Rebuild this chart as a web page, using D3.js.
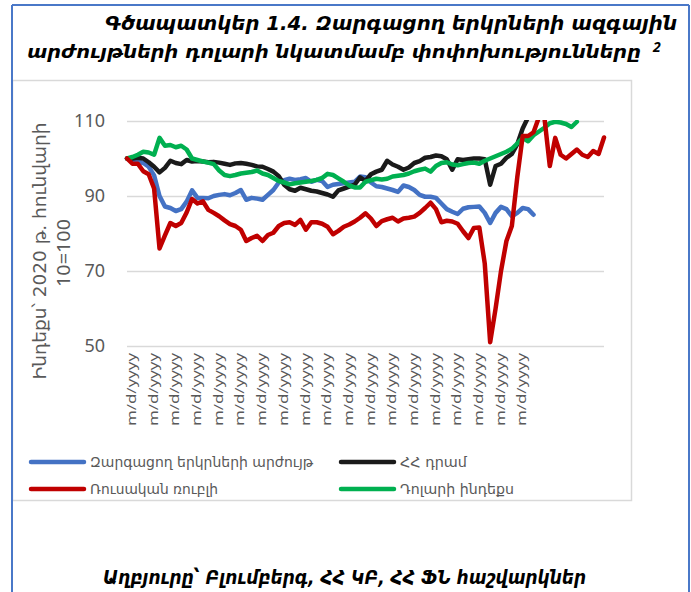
<!DOCTYPE html>
<html>
<head>
<meta charset="utf-8">
<script src="https://cdn.jsdelivr.net/npm/d3@7"></script>
<style>
  body { margin: 0; background: #fff; }
  svg { display: block; }
  .arm { font-family: "DejaVu Sans", sans-serif; }
  .num { font-family: "Noto Sans", "Liberation Sans", sans-serif; }
</style>
</head>
<body>
<svg></svg>
<script>
// series, one value per trading period (same category axis)
const emerging = [100,99.5,99.2,98.8,97.8,95.5,90,87.2,86.8,86,
  86.5,88.5,91.5,89.5,89.5,89.4,90,90.3,90.5,90.2,
  90.8,91.6,89,89.5,89.3,89,90.3,91.6,93.6,94.2,
  94.6,94.3,94.5,94.8,93.8,94.3,94,92.4,93,93.2,
  93.4,93.6,93.8,95.2,95,93.6,92.6,92.4,92,91.6,
  91.1,92.8,92.4,91.6,90.3,89.8,89.8,89.5,88,86.5,
  85.8,85.2,86.6,87,87.1,87.2,85.5,82.8,85.5,87.1,
  86.5,84.6,85.5,86.8,86.5,85]

const amd = [100,100,100.2,100,99,97.8,96.3,97.5,99.4,98.8,
  98.5,99.6,99.2,99.3,99.2,99,99.1,98.9,98.6,98.3,
  98.7,98.8,98.6,98.3,97.9,97.8,97.2,96.5,95.3,93,
  91.8,91.4,92.2,91.8,91.4,91.2,90.8,90.4,89.8,91.5,
  92,92.5,93,95,94,95.8,96.5,97,99.4,98.4,
  97.8,97,97.6,98.8,99.3,100.2,100.4,100.8,100.6,99.8,
  97,99.8,99.6,99.8,100,100,99.8,93,98,98.6,
  100.2,101.2,103.8,108,111,113]

const rub = [100,98.6,98.6,96.6,95.8,92,76,79.5,82.8,82,
  82.8,85.6,89.2,88,88.6,86.3,85.5,84.6,83.5,82.5,
  82,81,78,78.8,79.4,78,79.6,80.2,82,82.8,
  83,82.3,83.6,81,83,83,82.6,81.8,79.8,80.7,
  81.8,82.4,83.2,84.2,85.4,84,82,83.3,83.8,84.2,
  83.2,84,84.2,84.5,85.5,86.8,88.2,86.5,83,83.4,
  83.2,82.6,80.6,78.8,81.5,81.6,72,51,60,70,
  78,82,95,106,106,107,111,111,98,105.5,
  101,100,101.2,102.4,101,100.4,102,101.2,105.6]

const dxy = [100,100.4,101,101.8,101.6,101,105.5,103.4,103.6,103,
  103.4,102.4,100,99.6,99.2,98.9,98.5,96.8,95.6,95.3,
  95.6,96,96.2,96.4,96.8,96,95.6,94.8,94,93.6,
  93.1,93.4,93.6,93.8,94,94.3,94.8,95.9,95.6,94.7,
  93.8,92.8,92.3,92.3,93.8,94.2,94.6,94.4,94.6,95.2,
  95.4,95.6,96,96.6,97,97.3,96.5,98,98.8,99,
  98.4,98.2,98.5,98.8,98.9,98.6,99.4,100,100.6,101.2,
  101.8,102.6,104,105.5,104.6,106.2,107.2,108.2,109.4,109.8,
  109.6,109.2,108.4,109.8]

const nPeriods = 89
const labelEvery = 4
const xLabels = ["m/d/yyyy","m/d/yyyy","m/d/yyyy","m/d/yyyy","m/d/yyyy","m/d/yyyy","m/d/yyyy",
  "m/d/yyyy","m/d/yyyy","m/d/yyyy","m/d/yyyy","m/d/yyyy","m/d/yyyy","m/d/yyyy",
  "m/d/yyyy","m/d/yyyy","m/d/yyyy","m/d/yyyy","m/d/yyyy"]
const yTicks = [50, 70, 90, 110]

const seriesNames = ["Զարգացող երկրների արժույթ", "ՀՀ դրամ", "Ռուսական ռուբլի", "Դոլարի ինդեքս"]
const seriesColors = ["#4472c4", "#1a1a1a", "#c00000", "#00b050"]
const seriesValues = [emerging, amd, rub, dxy]

const series = seriesNames.map((name, i) => ({ name: name, color: seriesColors[i], values: seriesValues[i] }))

const svg = d3.select("svg")
  .attr("width", 691)
  .attr("height", 592)

// chart box and page frame
svg.append("rect")
  .attr("x", 12.5).attr("y", 80.5)
  .attr("width", 619).attr("height", 420)
  .attr("fill", "#fff")
  .attr("stroke", "#d9d9d9")
  .attr("stroke-width", 1.5)

const frame = svg.append("g")
  .attr("stroke", "#4a78c8")
  .attr("stroke-width", 2)
frame.append("line").attr("x1", 12).attr("x2", 689).attr("y1", 5).attr("y2", 5)
frame.append("line").attr("x1", 12).attr("x2", 12).attr("y1", 5).attr("y2", 592)
frame.append("line").attr("x1", 689).attr("x2", 689).attr("y1", 5).attr("y2", 592)

// titles
svg.append("text")
  .attr("class", "arm")
  .attr("x", 105).attr("y", 30)
  .attr("textLength", 572)
  .attr("lengthAdjust", "spacingAndGlyphs")
  .style("font-size", "20px")
  .style("font-weight", "bold")
  .style("font-style", "italic")
  .text("Գծապատկեր 1.4. Զարգացող երկրների ազգային")

svg.append("text")
  .attr("class", "arm")
  .attr("x", 27).attr("y", 58)
  .attr("textLength", 614)
  .attr("lengthAdjust", "spacingAndGlyphs")
  .style("font-size", "18px")
  .style("font-weight", "bold")
  .style("font-style", "italic")
  .text("արժույթների դոլարի նկատմամբ փոփոխությունները")

svg.append("text")
  .attr("class", "num")
  .attr("x", 653).attr("y", 52)
  .style("font-size", "14px")
  .style("font-weight", "bold")
  .style("font-style", "italic")
  .text("2")

svg.append("text")
  .attr("class", "arm")
  .attr("x", 103).attr("y", 584)
  .attr("textLength", 483)
  .attr("lengthAdjust", "spacingAndGlyphs")
  .style("font-size", "20px")
  .style("font-weight", "bold")
  .style("font-style", "italic")
  .text("Աղբյուրը՝ Բլումբերգ, ՀՀ ԿԲ, ՀՀ ՖՆ հաշվարկներ")

// scales
const xScale = d3.scaleLinear()
  .domain([0, nPeriods - 1])
  .range([127, 604])

const yScale = d3.scaleLinear()
  .domain([50, 110])
  .range([346, 121])

// y gridlines + labels
const yAxis = svg.append("g")
  .attr("transform", "translate(127, 0)")
  .call(d3.axisLeft(yScale).tickValues(yTicks).tickSize(-477).tickPadding(22))
yAxis.select(".domain").remove()
yAxis.selectAll("line").attr("stroke", "#d9d9d9").attr("stroke-width", 1.5)
yAxis.selectAll("text")
  .attr("class", "num")
  .attr("fill", "#595959")
  .style("font-size", "18px")

// x labels
const xAxis = svg.append("g")
  .attr("transform", "translate(0, 346)")
  .call(d3.axisBottom(xScale)
    .tickValues(xLabels.map((d, i) => i * labelEvery))
    .tickFormat((d, i) => xLabels[i])
    .tickSize(0))
xAxis.select(".domain").remove()
xAxis.selectAll("text")
  .attr("class", "num")
  .attr("fill", "#595959")
  .attr("transform", "rotate(-90)")
  .attr("text-anchor", "end")
  .attr("x", -7)
  .attr("y", 4)
  .attr("dy", "0.35em")
  .attr("textLength", 73)
  .attr("lengthAdjust", "spacingAndGlyphs")
  .style("font-size", "13px")

// y axis title
const yTitle = svg.append("g").attr("class", "arm").attr("fill", "#595959")
yTitle.append("text")
  .attr("transform", "translate(40, 251) rotate(-90)")
  .attr("text-anchor", "middle")
  .attr("dy", "0.35em")
  .attr("textLength", 257)
  .attr("lengthAdjust", "spacingAndGlyphs")
  .style("font-size", "17px")
  .text("Ինդեքս՝ 2020 թ. հունվարի")
yTitle.append("text")
  .attr("class", "num")
  .attr("transform", "translate(64, 253) rotate(-90)")
  .attr("text-anchor", "middle")
  .attr("dy", "0.35em")
  .attr("textLength", 68)
  .attr("lengthAdjust", "spacingAndGlyphs")
  .style("font-size", "18px")
  .text("10=100")

// lines
svg.append("clipPath")
  .attr("id", "plot-clip")
  .append("rect")
  .attr("x", 120).attr("y", 120)
  .attr("width", 490).attr("height", 240)

const lineGenerator = d3.line()
  .x((d, i) => xScale(i))
  .y(d => yScale(d))

const drawOrder = [0, 1, 3, 2]
svg.append("g")
  .attr("clip-path", "url(#plot-clip)")
  .selectAll("path")
  .data(drawOrder.map(k => series[k]))
  .enter()
  .append("path")
  .attr("d", d => lineGenerator(d.values))
  .attr("fill", "none")
  .attr("stroke", d => d.color)
  .attr("stroke-width", 4.5)
  .attr("stroke-linejoin", "round")
  .attr("stroke-linecap", "round")

// legend
const legendCols = [31, 341]
const legendRows = [462, 489]
const legendWidths = [223, 67, 128, 114]

const legendItems = svg.selectAll("g.legend-item")
  .data(series)
  .enter()
  .append("g")
  .attr("class", "legend-item")
  .attr("transform", (d, i) => `translate(${legendCols[i % 2]}, ${legendRows[Math.floor(i / 2)]})`)

legendItems.append("line")
  .attr("x1", 0).attr("x2", 53)
  .attr("stroke", d => d.color)
  .attr("stroke-width", 4.5)
  .attr("stroke-linecap", "round")

legendItems.append("text")
  .attr("class", "arm")
  .attr("x", 59)
  .attr("dy", "0.35em")
  .attr("fill", "#595959")
  .attr("textLength", (d, i) => legendWidths[i])
  .attr("lengthAdjust", "spacingAndGlyphs")
  .style("font-size", "14px")
  .text(d => d.name)
</script>
</body>
</html>
